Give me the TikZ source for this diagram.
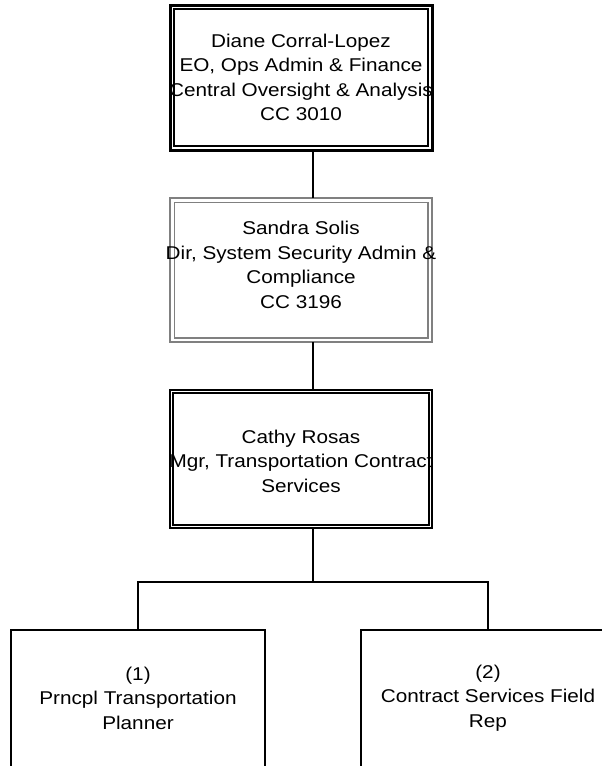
\documentclass[tikz,border=0pt]{standalone}
\usepackage{fontspec}
\setmainfont{Liberation Sans}[FakeStretch=1.12]
\begin{document}
\begin{tikzpicture}[x=1pt,y=-1pt,
  txt/.style={font=\fontsize{18.5}{24.5}\selectfont, align=center, inner sep=0pt},
  conn/.style={line width=2pt, line cap=rect},
  boxA/.style={draw, line width=3pt, inner sep=0pt},
  boxB/.style={draw=gray, line width=1.5pt, inner sep=0pt},
  boxC/.style={draw, line width=2pt, inner sep=0pt},
  boxD/.style={draw, line width=2pt, inner sep=0pt}]
\clip (0,0) rectangle (602,766);
\fill[white] (0,0) rectangle (602,766);
% boxes
\node[boxA, minimum width=262pt, minimum height=145pt] (a) at (301,77.5) {};
\draw[line width=1.5pt] ([xshift=5.5pt,yshift=-5.5pt]a.north west) rectangle ([xshift=-5.5pt,yshift=5.5pt]a.south east);
\node[txt] (at) at (301,77.5) {Diane Corral-Lopez\\EO, Ops Admin \& Finance\\Central Oversight \& Analysis\\CC 3010};

\node[boxB, minimum width=262pt, minimum height=144pt] (b) at (301,270) {};
\draw[gray, line width=1.5pt] ([xshift=5pt,yshift=-5pt]b.north west) rectangle ([xshift=-5pt,yshift=5pt]b.south east);
\node[txt] (bt) at (301,265) {Sandra Solis\\Dir, System Security Admin \&\\Compliance\\CC 3196};

\node[boxC, minimum width=262pt, minimum height=138pt] (c) at (301,459) {};
\draw[line width=1.5pt] ([xshift=4pt,yshift=-4pt]c.north west) rectangle ([xshift=-4pt,yshift=4pt]c.south east);
\node[txt] (ct) at (301,461) {Cathy Rosas\\Mgr, Transportation Contract\\Services};

\node[boxD, minimum width=254pt, minimum height=140pt] (d) at (138,700) {};
\node[txt] (dt) at (138,698) {(1)\\Prncpl Transportation\\Planner};

\node[boxD, minimum width=254pt, minimum height=140pt] (e) at (488,700) {};
\node[txt] (et) at (488,698) {(2)\\Contract Services Field\\Rep};

% connectors
\coordinate (j) at (313,582);
\draw[conn] (a.south -| j) -- (b.north -| j);
\draw[conn] (b.south -| j) -- (c.north -| j);
\draw[conn] (c.south -| j) -- (j);
\draw[conn] (d.north) -- (d.north |- j) -- (e.north |- j) -- (e.north);
\end{tikzpicture}
\end{document}
